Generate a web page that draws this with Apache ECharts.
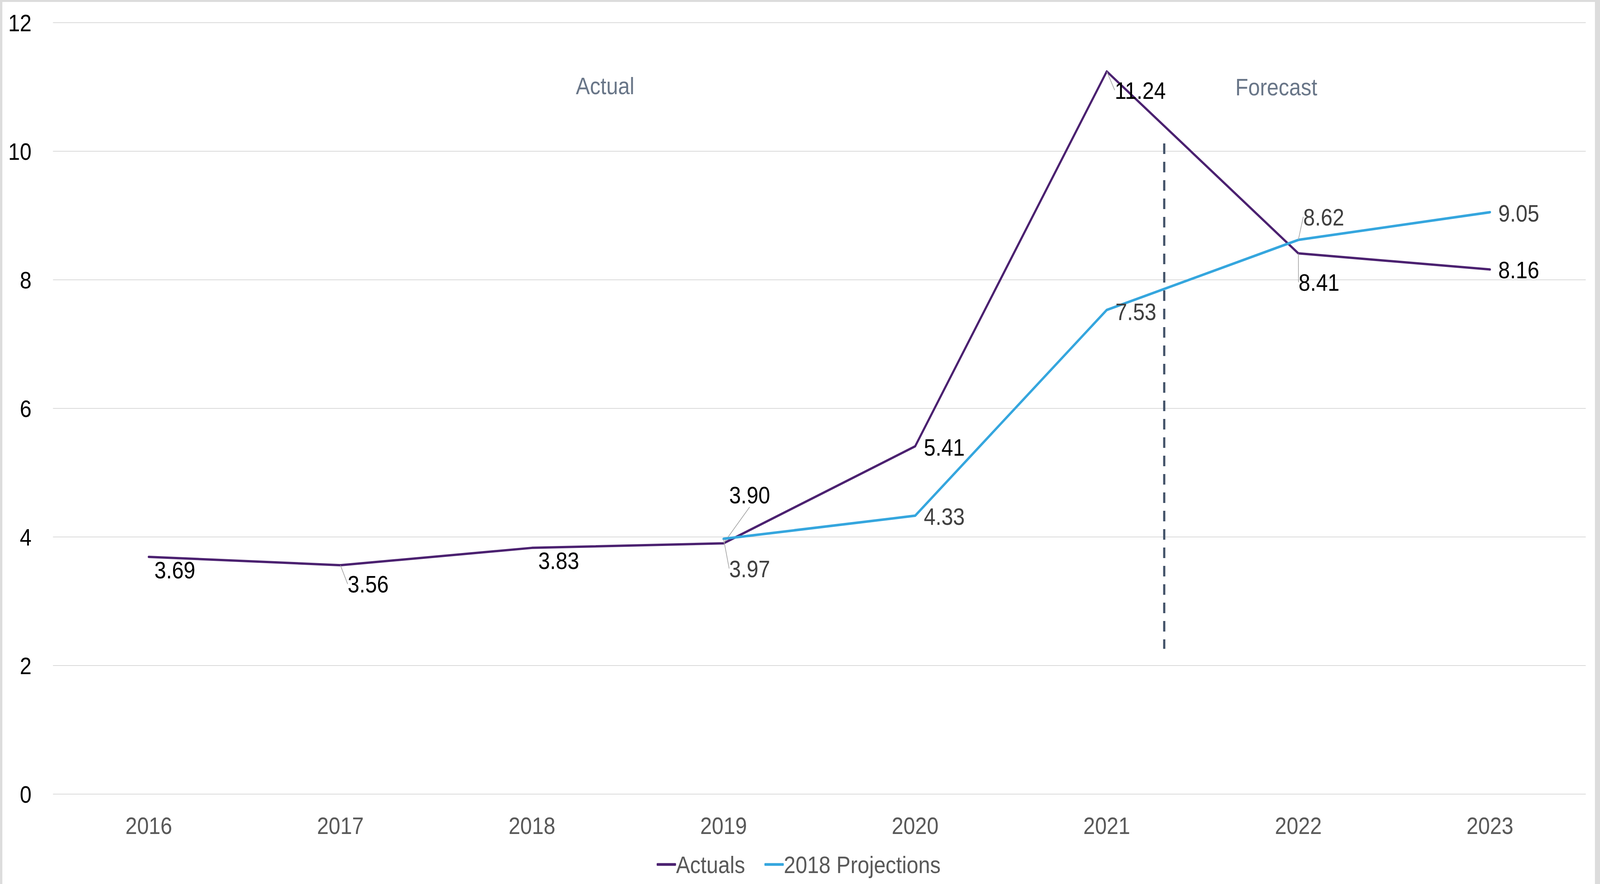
<!DOCTYPE html>
<html>
<head>
<meta charset="utf-8">
<script src="https://cdn.jsdelivr.net/npm/echarts@6/dist/echarts.min.js"></script>
<style>
  html, body { margin: 0; padding: 0; width: 100%; height: 100%; background: #dcdcdc; overflow: hidden; }
  #stage { position: absolute; left: 0; top: 0; width: 4712px; height: 2262px; transform-origin: 0 0; background: #dcdcdc; }
  #chart { position: absolute; left: 7px; top: 5px; width: 4690px; height: 2257px; background: #ffffff; }
</style>
</head>
<body>
<div id="stage"><div id="chart"></div></div>
<script>
// ---- data ----
const years = ['2016', '2017', '2018', '2019', '2020', '2021', '2022', '2023'];
const actuals = [3.69, 3.56, 3.83, 3.90, 5.41, 11.24, 8.41, 8.16];
const projections2018 = [null, null, null, 3.97, 4.33, 7.53, 8.62, 9.05];
const yTicks = { min: 0, max: 12, interval: 2 };
const seriesNames = ['Actuals', '2018 Projections'];
// annotations (in category-index / value units)
const annotationText = ['Actual', 'Forecast'];
const annotationX = [2.382, 5.885];
const annotationY = [11.02, 11.0];
// divider between actual and forecast periods
const dividerX = 5.30;
const dividerRange = [10.12, 2.26];

// fit the 4712x2262 design into the actual window
(function fit() {
  const sx = window.innerWidth / 4712;
  const sy = window.innerHeight / 2262;
  document.getElementById('stage').style.transform = 'scale(' + sx + ',' + sy + ')';
})();

// ---- label placement (styling) ----
const FONT = '"Liberation Sans", Arial, Helvetica, sans-serif';
const labelShift = {
  0: { 0: [16, 33], 1: [21, 48, true], 2: [18, 32], 3: [16, -124, true], 4: [25, 2], 5: [23, 48, true], 6: [0, 74, true], 7: [24, 1] },
  1: { 3: [16, 76, true], 4: [25, 2], 5: [25, 4], 6: [14, -59, true], 7: [24, 2] }
};

function buildData(values, sIdx) {
  return values.map((v, i) => {
    if (v === null) return null;
    const s = labelShift[sIdx][i];
    return { value: v, labelLine: { show: !!(s && s[2]) } };
  });
}

const chart = echarts.init(document.getElementById('chart'), null, { renderer: 'svg', width: 4690, height: 2257 });

const labelLayoutFn = function (params) {
  const s = labelShift[params.seriesIndex] && labelShift[params.seriesIndex][params.dataIndex];
  if (!s) return {};
  return { dx: s[0], dy: s[1] };
};

const option = {
  backgroundColor: '#ffffff',
  animation: false,
  grid: { left: 149, right: 27, top: 52.7, bottom: 230, containLabel: false },
  legend: {
    data: seriesNames,
    bottom: 14,
    left: 'center',
    icon: 'roundRect',
    itemWidth: 57,
    itemHeight: 7,
    itemGap: 57,
    textStyle: { fontFamily: FONT, fontSize: 62, color: '#595959', padding: [0, 0, 0, -5] }
  },
  xAxis: [
    {
      type: 'category',
      data: years,
      boundaryGap: true,
      axisLine: { show: false },
      axisTick: { show: false },
      axisLabel: { fontFamily: FONT, fontSize: 62, color: '#595959', margin: 49 },
      splitLine: { show: false }
    },
    { type: 'value', min: -0.5, max: 7.5, show: false }
  ],
  yAxis: {
    type: 'value',
    min: yTicks.min,
    max: yTicks.max,
    interval: yTicks.interval,
    axisLine: { show: false },
    axisTick: { show: false },
    axisLabel: { fontFamily: FONT, fontSize: 62, color: '#000000', margin: 63 },
    splitLine: { lineStyle: { color: '#d9d9d9', width: 2 } }
  },
  series: [
    {
      name: seriesNames[0],
      type: 'line',
      data: buildData(actuals, 0),
      symbol: 'circle',
      symbolSize: 1,
      showSymbol: true,
      itemStyle: { color: '#4b2170' },
      lineStyle: { color: '#4b2170', width: 6, cap: 'round', join: 'round' },
      label: {
        show: true, position: 'right', distance: 0,
        fontFamily: FONT, fontSize: 62, color: '#000000',
        formatter: p => p.value.toFixed(2)
      },
      labelLine: { show: false, lineStyle: { color: '#a6a6a6', width: 2 } },
      labelLayout: labelLayoutFn,
      z: 3
    },
    {
      name: seriesNames[1],
      type: 'line',
      data: buildData(projections2018, 1),
      symbol: 'circle',
      symbolSize: 1,
      showSymbol: true,
      itemStyle: { color: '#35a6de' },
      lineStyle: { color: '#35a6de', width: 6.5, cap: 'round', join: 'round' },
      label: {
        show: true, position: 'right', distance: 0,
        fontFamily: FONT, fontSize: 62, color: '#404040',
        formatter: p => p.value.toFixed(2)
      },
      labelLine: { show: false, lineStyle: { color: '#a6a6a6', width: 2 } },
      labelLayout: labelLayoutFn,
      z: 4
    },
    {
      name: 'divider',
      type: 'line',
      xAxisIndex: 1,
      data: [[dividerX, dividerRange[0]], [dividerX, dividerRange[1]]],
      symbol: 'none',
      silent: true,
      lineStyle: { color: '#44546a', width: 6.5, type: [27, 20] },
      z: 2
    },
    {
      name: 'annotations',
      type: 'scatter',
      xAxisIndex: 1,
      symbolSize: 0,
      silent: true,
      data: annotationText.map((t, i) => ({ name: t, value: [annotationX[i], annotationY[i]] })),
      label: {
        show: true, position: 'inside', formatter: p => p.name,
        fontFamily: FONT, fontSize: 62, color: '#44546a'
      }
    }
  ]
};

chart.setOption(option);
</script>
</body>
</html>
